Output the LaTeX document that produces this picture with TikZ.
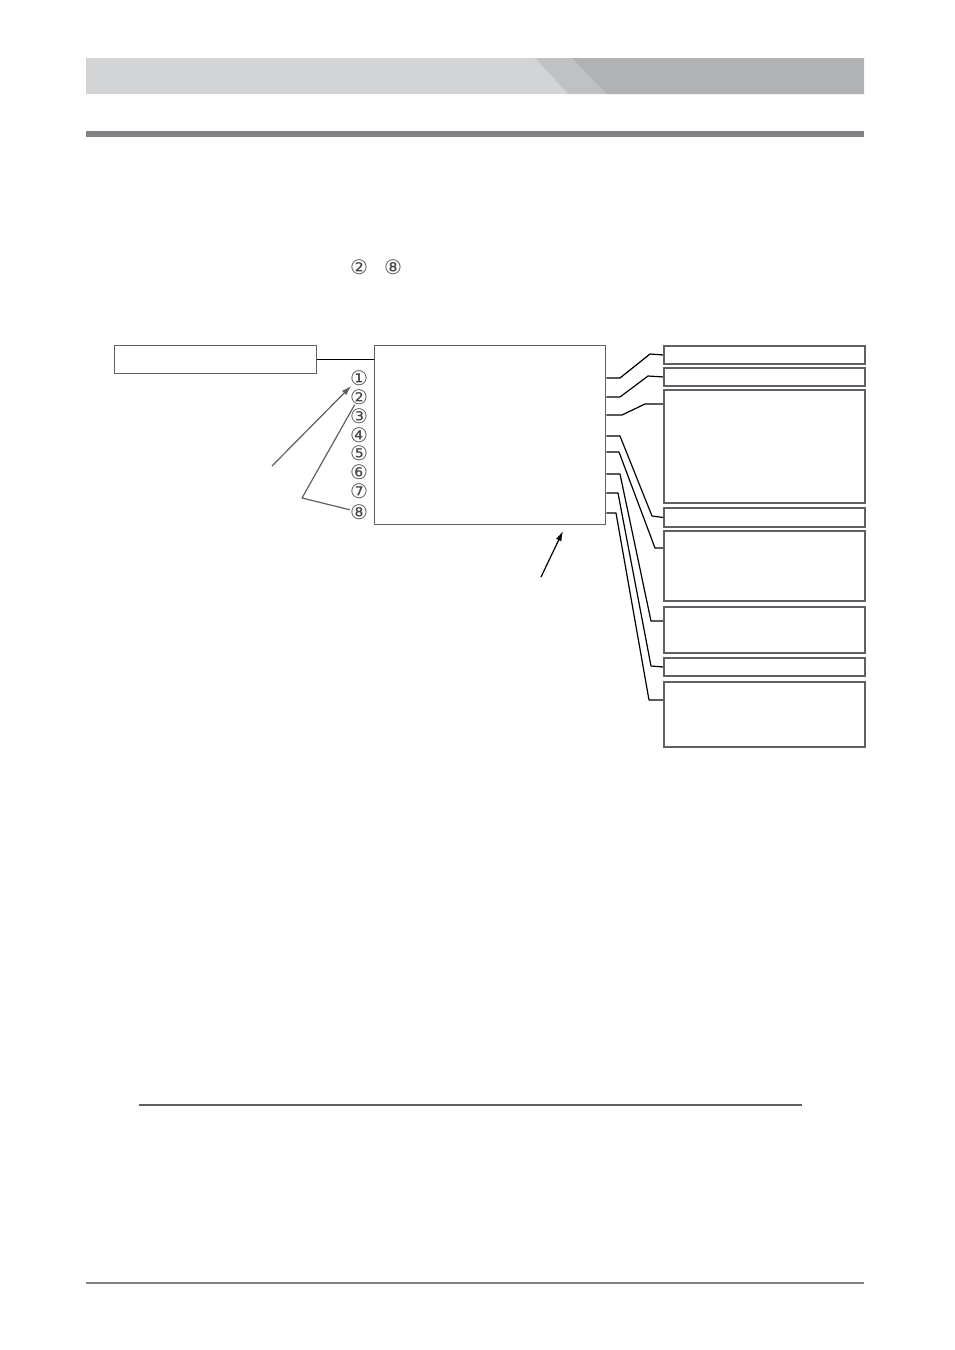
\documentclass[tikz,border=0pt]{standalone}
\usepackage{fontspec}
\newfontfamily\circfont{DejaVu Sans}
\usetikzlibrary{arrows.meta}
\definecolor{bandlight}{RGB}{211,212,214}
\definecolor{bandmid}{RGB}{192,193,195}
\definecolor{banddark}{RGB}{177,178,180}
\definecolor{rulegray}{RGB}{128,129,132}
\definecolor{boxgray}{RGB}{95,96,99}
\definecolor{numgray}{RGB}{70,70,72}
\tikzset{
  rbox/.style={draw=boxgray, line width=1.4pt, anchor=north west,
    minimum width=150.75pt, inner sep=0pt},
  lbox/.style={draw=boxgray, line width=1pt, anchor=north west,
    minimum width=151.5pt, minimum height=21pt, inner sep=0pt},
  mbox/.style={draw=boxgray, line width=1pt, anchor=north west,
    minimum width=173.25pt, minimum height=134.25pt, inner sep=0pt},
  circnum/.style={inner sep=0pt, text=numgray, font=\circfont\fontsize{15}{15}\selectfont},
  wire/.style={draw=black, line width=0.9pt, line join=round},
  pointer/.style={line width=0.9pt, -{Latex[length=7.5pt,width=4.5pt]}}
}
\begin{document}
\begin{tikzpicture}[x=0.75pt, y=-0.75pt]
  \path[use as bounding box, fill=white] (0,0) rectangle (954,1350);
  % header band
  \fill[bandlight] (86,58) -- (535,58) -- (568,94) -- (86,94) -- cycle;
  \fill[bandmid] (535,58) -- (572,58) -- (606,94) -- (568,94) -- cycle;
  \fill[banddark] (572,58) -- (864,58) -- (864,94) -- (606,94) -- cycle;
  \fill[rulegray] (86,131) rectangle (864,137);
  \draw
    (359,267) node[circnum] (ref2){②}
    (393,267) node[circnum] (ref8){⑧};
  % boxes
  \node[lbox] (left) at (114,345) {};
  \node[mbox] (main) at (374,345) {};
  \node[rbox, minimum height=13.5pt] (r1) at (663,345) {};
  \node[rbox, minimum height=13.5pt] (r2) at (663,367) {};
  \node[rbox, minimum height=84.75pt] (r3) at (663,389) {};
  \node[rbox, minimum height=14.25pt] (r4) at (663,507) {};
  \node[rbox, minimum height=52.5pt] (r5) at (663,530) {};
  \node[rbox, minimum height=34.5pt] (r6) at (663,606) {};
  \node[rbox, minimum height=13.5pt] (r7) at (663,657) {};
  \node[rbox, minimum height=48.75pt] (r8) at (663,681) {};
  % numbers
  \draw
    (359,378) node[circnum] (n1){①}
    (359,397) node[circnum] (n2){②}
    (359,416) node[circnum] (n3){③}
    (359,435) node[circnum] (n4){④}
    (359,453) node[circnum] (n5){⑤}
    (359,472) node[circnum] (n6){⑥}
    (359,491) node[circnum] (n7){⑦}
    (359,512) node[circnum] (n8){⑧};
  \coordinate (a1) at (272,466);
  \coordinate (k) at (302,498);
  \coordinate (a2) at (541,577);
  \coordinate (t2) at (563,531);
  \draw[wire] (left.east) -- (main.west |- left.east);
  \draw[pointer, boxgray] (a1) -- (n1);
  \draw[wire, boxgray] (n2) -- (k) -- (n8);
  \draw[pointer] (a2) -- (t2);
  % wires to the right
  \draw[wire] (main.east |- 0,378) -- (620,378) -- (650,354) -- (r1.west);
  \draw[wire] (main.east |- 0,397) -- (620,397) -- (648,376) -- (r2.west);
  \draw[wire] (main.east |- 0,415) -- (622,415) -- (645,404) -- (r3.west |- 0,404);
  \draw[wire] (main.east |- 0,436) -- (620,436) -- (652,516) -- (r4.west);
  \draw[wire] (main.east |- 0,452) -- (619,452) -- (655,548) -- (r5.west |- 0,548);
  \draw[wire] (main.east |- 0,474) -- (620,474) -- (651,621) -- (r6.west |- 0,621);
  \draw[wire] (main.east |- 0,493) -- (618,493) -- (651,666) -- (r7.west);
  \draw[wire] (main.east |- 0,513) -- (616,513) -- (649,700) -- (r8.west |- 0,700);
  % rules
  \draw[boxgray, line width=1.1pt] (139,1105) -- (802,1105);
  \draw[rulegray, line width=1.1pt] (86,1283) -- (864,1283);
\end{tikzpicture}
\end{document}
